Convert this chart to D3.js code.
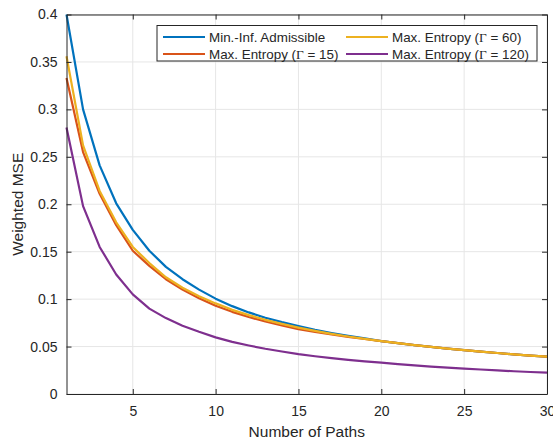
<html>
<head>
<script src="https://d3js.org/d3.v7.min.js"></script>
<style>
  body { margin: 0; background: white; }
  text { font-family: "Liberation Sans", Arial, Helvetica, sans-serif; fill: #262626; }
</style>
</head>
<body>
<svg id="chart" width="553" height="441"></svg>
<script>
// values
var paths = d3.range(1, 31);
var minInf = [0.400, 0.300, 0.241, 0.201, 0.173, 0.151, 0.134, 0.121, 0.110, 0.1005,
              0.0926, 0.086, 0.0804, 0.0757, 0.0716, 0.0677, 0.0643, 0.0613, 0.0586, 0.0558,
              0.0536, 0.0515, 0.0497, 0.0479, 0.0463, 0.0447, 0.0432, 0.0418, 0.0405, 0.0393];
var ent15 = [0.333, 0.255, 0.211, 0.178, 0.151, 0.135, 0.121, 0.110, 0.101, 0.093,
             0.0866, 0.0811, 0.0764, 0.0722, 0.0684, 0.0654, 0.0627, 0.0603, 0.058, 0.0558,
             0.0536, 0.0515, 0.0497, 0.0479, 0.0463, 0.0447, 0.0432, 0.0418, 0.0405, 0.0393];
var ent60 = [0.356, 0.262, 0.214, 0.181, 0.155, 0.138, 0.123, 0.112, 0.103, 0.0955,
             0.0887, 0.0831, 0.0782, 0.0739, 0.070, 0.0665, 0.0634, 0.0606, 0.0581, 0.0558,
             0.0536, 0.0515, 0.0497, 0.0479, 0.0463, 0.0447, 0.0432, 0.0418, 0.0405, 0.0393];
var ent120 = [0.281, 0.198, 0.155, 0.126, 0.105, 0.090, 0.080, 0.072, 0.0656, 0.0597,
              0.0549, 0.0511, 0.0477, 0.0448, 0.0421, 0.0398, 0.0378, 0.036, 0.0344, 0.033,
              0.0315, 0.0302, 0.0289, 0.0278, 0.0267, 0.0258, 0.0248, 0.024, 0.0232, 0.0225];
var xTicks = [5, 10, 15, 20, 25, 30];
var yTicks = [0, 0.05, 0.1, 0.15, 0.2, 0.25, 0.3, 0.35, 0.4];

var series = [
  {name: "Min.-Inf. Admissible", values: minInf, color: "#0072BD"},
  {name: "Max. Entropy (", g: "15", values: ent15, color: "#D95319"},
  {name: "Max. Entropy (", g: "60", values: ent60, color: "#EDB120"},
  {name: "Max. Entropy (", g: "120", values: ent120, color: "#7E2F8E"}
];

var pL = 66.5, pR = 547, pT = 14.5, pB = 394;
var x = d3.scaleLinear().domain([1, 30]).range([pL, pR]);
var y = d3.scaleLinear().domain([0, 0.4]).range([pB, pT]);
var svg = d3.select("#chart");

// grid
svg.append("g").selectAll("line").data(xTicks).enter().append("line")
  .attr("x1", d => x(d)).attr("x2", d => x(d)).attr("y1", pT).attr("y2", pB)
  .attr("stroke", "#e6e6e6").attr("stroke-width", 1);
svg.append("g").selectAll("line").data(yTicks).enter().append("line")
  .attr("y1", d => y(d)).attr("y2", d => y(d)).attr("x1", pL).attr("x2", pR)
  .attr("stroke", "#e6e6e6").attr("stroke-width", 1);

// lines
var line = d3.line().x((d, i) => x(paths[i])).y(d => y(d));
series.forEach(function(s) {
  svg.append("path").datum(s.values).attr("d", line)
    .attr("fill", "none").attr("stroke", s.color).attr("stroke-width", 2.2)
    .attr("stroke-linejoin", "round");
});

// axes, ticks inside, box on
svg.append("g").attr("transform", "translate(0," + pB + ")")
  .call(d3.axisBottom(x).tickValues(xTicks).tickSizeInner(-5).tickSizeOuter(0).tickPadding(12))
  .call(g => g.selectAll("text").style("font-size", "14px"));
svg.append("g").attr("transform", "translate(0," + pT + ")")
  .call(d3.axisTop(x).tickValues(xTicks).tickSizeInner(-5).tickSizeOuter(0).tickFormat(""));
svg.append("g").attr("transform", "translate(" + pL + ",0)")
  .call(d3.axisLeft(y).tickValues(yTicks).tickSizeInner(-5).tickSizeOuter(0).tickPadding(9)
    .tickFormat(d => d3.format("")(+d.toFixed(2))))
  .call(g => g.selectAll("text").style("font-size", "14px"));
svg.append("g").attr("transform", "translate(" + pR + ",0)")
  .call(d3.axisRight(y).tickValues(yTicks).tickSizeInner(-5).tickSizeOuter(0).tickFormat(""));
svg.selectAll(".domain").attr("stroke", "#262626");
svg.selectAll(".tick line").attr("stroke", "#262626");
svg.selectAll(".tick text").attr("fill", "#262626");

// axis labels
svg.append("text").attr("x", (pL + pR) / 2).attr("y", 437).attr("text-anchor", "middle")
  .style("font-size", "15.5px").text("Number of Paths");
svg.append("text").attr("transform", "translate(23," + ((pT + pB) / 2) + ") rotate(-90)")
  .attr("text-anchor", "middle").style("font-size", "15.5px").text("Weighted MSE");

// legend
var lg = svg.append("g");
lg.append("rect").attr("x", 157).attr("y", 25.5).attr("width", 380).attr("height", 35.5)
  .attr("fill", "white").attr("stroke", "#262626").attr("stroke-width", 1);
var cols = [163, 346], rows = [37, 54];
series.forEach(function(s, i) {
  var cx = cols[[0, 0, 1, 1][i]], cy = rows[[0, 1, 0, 1][i]];
  lg.append("line").attr("x1", cx).attr("x2", cx + 42).attr("y1", cy).attr("y2", cy)
    .attr("stroke", s.color).attr("stroke-width", 2.2);
  var t = lg.append("text").attr("x", cx + 46).attr("y", cy + 4.7).style("font-size", "13.4px");
  t.append("tspan").text(s.name);
  if (s.g) {
    t.append("tspan").style("font-family", "'Liberation Serif', 'Times New Roman', serif").text("\u0393");
    t.append("tspan").text(" = " + s.g + ")");
  }
});
</script>
</body>
</html>
